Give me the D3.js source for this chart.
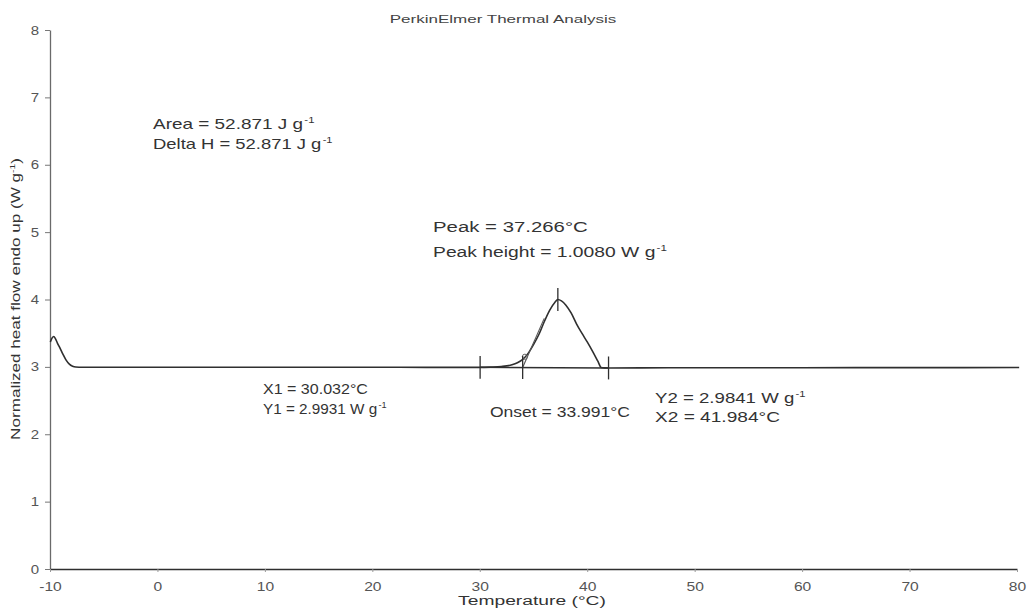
<!DOCTYPE html>
<html>
<head>
<meta charset="utf-8">
<script src="https://cdn.jsdelivr.net/npm/d3@7"></script>
<style>
  html, body { margin: 0; padding: 0; background: #fff; }
  svg { display: block; font-family: "Liberation Sans", Arial, sans-serif; }
</style>
</head>
<body>
<svg id="chart" width="1028" height="615"></svg>
<script>
// DSC heating scan: temperature (°C) vs normalized heat flow (W g-1), endo up
const temperature = [-9.97, -9.8, -9.65, -9.5, -9.3, -9.1, -8.8, -8.5, -8.2, -7.9, -7.6, -7,
  -5, 0, 5, 10, 15, 20, 25, 28, 30, 31, 32, 33, 33.5, 34, 34.5, 35, 35.5, 36, 36.5, 37,
  37.266, 37.6, 38, 38.5, 39, 39.5, 40, 40.5, 41, 41.3, 41.6, 42, 45, 50, 55, 60, 65, 70,
  75, 80.2];
const heatFlow = [3.37, 3.43, 3.45, 3.42, 3.35, 3.29, 3.19, 3.10, 3.04, 3.01, 2.998, 2.995,
  2.995, 2.995, 2.995, 2.994, 2.994, 2.994, 2.993, 2.993, 2.993, 2.997, 3.005, 3.03, 3.06,
  3.11, 3.20, 3.33, 3.48, 3.67, 3.84, 3.96, 4.001, 3.98, 3.92, 3.80, 3.64, 3.50, 3.37, 3.23,
  3.08, 2.99, 2.985, 2.984, 2.985, 2.987, 2.988, 2.988, 2.989, 2.989, 2.989, 2.99];

// Peak analysis results
const baselineStart = [30.032, 2.9931];   // X1, Y1
const baselineEnd = [41.984, 2.9841];     // X2, Y2
const onsetTemp = 33.991;
const peakTemp = 37.266;
const peakHeight = 1.0080;
const onsetTangentEnd = [36.0, 3.72];
const inflectionMark = [34.2, 3.15];

// Axis ticks
const xTicks = [-10, 0, 10, 20, 30, 40, 50, 60, 70, 80];
const yTicks = [0, 1, 2, 3, 4, 5, 6, 7, 8];

// Annotation texts: [main text, superscript]
const annotationTexts = [
  ["Area = 52.871 J g", "-1"],
  ["Delta H = 52.871 J g", "-1"],
  ["Peak = 37.266°C", ""],
  ["Peak height = 1.0080 W g", "-1"],
  ["X1 = 30.032°C", ""],
  ["Y1 = 2.9931 W g", "-1"],
  ["Onset = 33.991°C", ""],
  ["Y2 = 2.9841 W g", "-1"],
  ["X2 = 41.984°C", ""]
];

// Layout of the annotations: anchor in data units, font size, rendered width
const annotationLayout = [
  { t: -0.41, v: 6.53, size: 14, width: 162 },
  { t: -0.41, v: 6.23, size: 14, width: 180 },
  { t: 25.65, v: 5.00, size: 15, width: 155 },
  { t: 25.65, v: 4.63, size: 15, width: 234 },
  { t: 9.82, v: 2.60, size: 14, width: 105 },
  { t: 9.82, v: 2.30, size: 14, width: 124 },
  { t: 30.95, v: 2.26, size: 14, width: 140 },
  { t: 46.31, v: 2.46, size: 14, width: 151 },
  { t: 46.31, v: 2.18, size: 14, width: 125 }
];

const svg = d3.select("#chart");
const margin = { left: 50, right: 11, top: 30, bottom: 46 };
const W = 1028, H = 615;

const x = d3.scaleLinear().domain([-10, 80]).range([margin.left, W - margin.right]);
const y = d3.scaleLinear().domain([0, 8]).range([H - margin.bottom, margin.top]);

const textColor = "#333";
const tickColor = "#555";

// Stretch a text group horizontally so it spans the given width
function fitWidth(g, tx, ty, width) {
  const w = g.node().getBBox().width;
  g.attr("transform", `translate(${tx},${ty}) scale(${width / w},1)`);
}

// Y axis
const yAxis = svg.append("g")
  .attr("transform", `translate(${x(-10)},0)`)
  .call(d3.axisLeft(y).tickValues(yTicks).tickSize(5).tickSizeOuter(0).tickPadding(4).tickFormat(d => String(d)));
yAxis.select(".domain").attr("stroke", "#6a6a6a").attr("stroke-width", 1.3);
yAxis.selectAll(".tick line").attr("stroke", "#777");
yAxis.selectAll(".tick text")
  .attr("fill", tickColor).attr("font-size", 12.5)
  .attr("font-family", "Liberation Sans, Arial, sans-serif")
  .attr("transform", "scale(1.2,1)");

// X axis
const xAxis = svg.append("g")
  .attr("transform", `translate(0,${y(0)})`)
  .call(d3.axisBottom(x).tickValues(xTicks).tickSize(3).tickSizeOuter(0).tickPadding(10).tickFormat(d => String(d)));
xAxis.select(".domain").attr("stroke", "#2e2e2e").attr("stroke-width", 1.6);
xAxis.selectAll(".tick line").attr("stroke", "#999");
xAxis.selectAll(".tick text")
  .attr("fill", tickColor).attr("font-size", 12.5)
  .attr("font-family", "Liberation Sans, Arial, sans-serif")
  .attr("transform", "scale(1.25,1)");

// Heat flow curve
const line = d3.line()
  .x((d, i) => x(temperature[i]))
  .y(d => y(d))
  .curve(d3.curveMonotoneX);

svg.append("path")
  .datum(heatFlow)
  .attr("d", line)
  .attr("fill", "none")
  .attr("stroke", "#2f2f2f")
  .attr("stroke-width", 1.6);

// Integration baseline between X1 and X2
svg.append("line")
  .attr("x1", x(baselineStart[0])).attr("y1", y(baselineStart[1]))
  .attr("x2", x(baselineEnd[0])).attr("y2", y(baselineEnd[1]))
  .attr("stroke", "#2f2f2f").attr("stroke-width", 1.5);

// Onset tangent
const onsetY = baselineStart[1] + (baselineEnd[1] - baselineStart[1]) *
  (onsetTemp - baselineStart[0]) / (baselineEnd[0] - baselineStart[0]);
svg.append("line")
  .attr("x1", x(onsetTemp)).attr("y1", y(onsetY))
  .attr("x2", x(onsetTangentEnd[0])).attr("y2", y(onsetTangentEnd[1]))
  .attr("stroke", "#555").attr("stroke-width", 1.1);

svg.append("circle")
  .attr("cx", x(inflectionMark[0])).attr("cy", y(inflectionMark[1]))
  .attr("r", 2.6).attr("fill", "none").attr("stroke", "#666").attr("stroke-width", 1);

// Vertical markers at X1, onset, X2 and the peak
const markerHalf = 0.17;
[[baselineStart[0], baselineStart[1]], [onsetTemp, onsetY], [baselineEnd[0], baselineEnd[1]],
 [peakTemp, baselineStart[1] + peakHeight]].forEach(([t, v]) => {
  svg.append("line")
    .attr("x1", x(t)).attr("x2", x(t))
    .attr("y1", y(v - markerHalf)).attr("y2", y(v + markerHalf))
    .attr("stroke", "#2f2f2f").attr("stroke-width", 1.3);
});

// Annotations
annotationTexts.forEach(([main, sup], i) => {
  const L = annotationLayout[i];
  const g = svg.append("g");
  const t = g.append("text")
    .attr("x", 0).attr("y", 0)
    .attr("fill", textColor)
    .attr("font-size", L.size);
  t.append("tspan").text(main);
  if (sup) {
    t.append("tspan").text(sup)
      .attr("font-size", L.size * 0.6)
      .attr("dy", -L.size * 0.42)
      .attr("dx", 1);
  }
  fitWidth(g, x(L.t), y(L.v), L.width);
});

// Title
const titleG = svg.append("g");
titleG.append("text").text("PerkinElmer Thermal Analysis")
  .attr("text-anchor", "middle")
  .attr("fill", "#444").attr("font-size", 11.5);
{
  const w = titleG.node().getBBox().width;
  titleG.attr("transform", `translate(503,23) scale(${227 / w},1)`);
}

// X axis title
const xTitleG = svg.append("g");
xTitleG.append("text").text("Temperature (°C)")
  .attr("text-anchor", "middle")
  .attr("fill", textColor).attr("font-size", 13.5);
{
  const w = xTitleG.node().getBBox().width;
  xTitleG.attr("transform", `translate(532,605) scale(${148 / w},1)`);
}

// Y axis title
const yTitleG = svg.append("g");
const yTitle = yTitleG.append("text")
  .attr("text-anchor", "middle")
  .attr("fill", textColor).attr("font-size", 12.5);
yTitle.append("tspan").text("Normalized heat flow endo up (W g");
yTitle.append("tspan").text("-1").attr("font-size", 7.5).attr("dy", -5);
yTitle.append("tspan").text(")").attr("dy", 5);
{
  const w = yTitleG.node().getBBox().width;
  yTitleG.attr("transform", `translate(20,299) rotate(-90) scale(${282 / w},1)`);
}
</script>
</body>
</html>
